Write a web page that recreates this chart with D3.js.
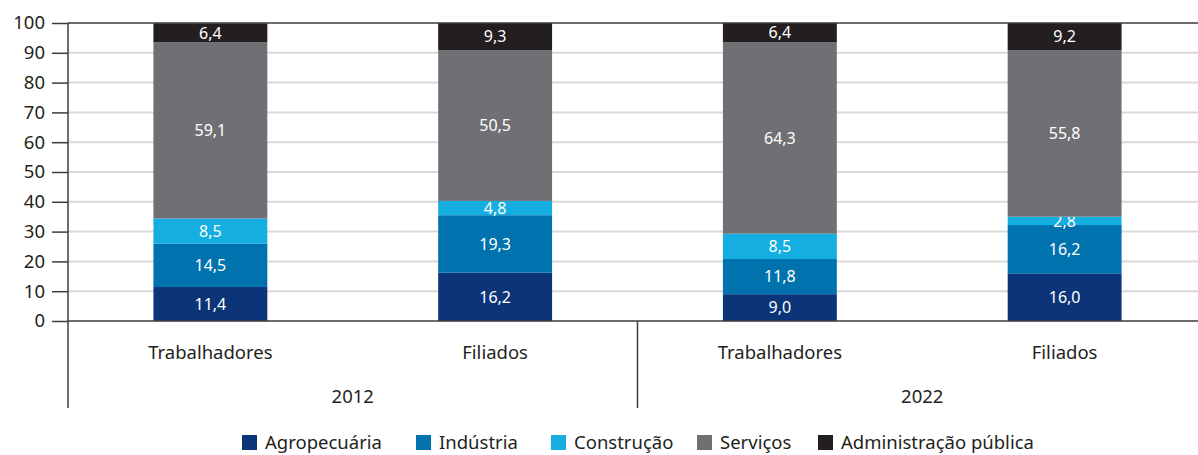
<!DOCTYPE html>
<html>
<head>
<meta charset="utf-8">
<script src="https://cdn.jsdelivr.net/npm/d3@7"></script>
<style>
  body { margin: 0; background: #fff; }
  svg { display: block; font-family: "Noto Sans", "Open Sans", sans-serif; }
</style>
</head>
<body>
<svg id="viz" width="1198" height="455"></svg>
<script>
// categories and values
const years = ["2012", "2022"];
const groups = ["Trabalhadores", "Filiados"];
const sectors = ["Agropecuária", "Indústria", "Construção", "Serviços", "Administração pública"];
const sectorColors = ["#0b3578", "#0072ae", "#14aee0", "#707074", "#231f20"];

const agropecuaria = [11.4, 16.2, 9.0, 16.0];
const industria = [14.5, 19.3, 11.8, 16.2];
const construcao = [8.5, 4.8, 8.5, 2.8];
const servicos = [59.1, 50.5, 64.3, 55.8];
const adminPublica = [6.4, 9.3, 6.4, 9.2];

const yTicks = [0, 10, 20, 30, 40, 50, 60, 70, 80, 90, 100];

const margin = { top: 23, bottom: 321, left: 68, right: 1207 };
const LABEL_SIZE = 18.5;

const svg = d3.select("#viz");

// one row per bar: year + group
const bars = [];
years.forEach(yr => groups.forEach(g => bars.push({ key: `${yr}-${g}`, year: yr, group: g })));
const series = [agropecuaria, industria, construcao, servicos, adminPublica];
bars.forEach((b, i) => sectors.forEach((s, j) => { b[s] = series[j][i]; }));

const x = d3.scaleBand()
    .domain(bars.map(d => d.key))
    .range([margin.left, margin.right])
    .paddingInner(0.6)
    .paddingOuter(0.3);

const y = d3.scaleLinear()
    .domain([0, 100])
    .range([margin.bottom, margin.top]);

const color = d3.scaleOrdinal().domain(sectors).range(sectorColors);

// gridlines
svg.append("g")
    .selectAll("line")
    .data(yTicks.filter(t => t > 0 && t < 100))
    .join("line")
    .attr("x1", margin.left)
    .attr("x2", 1198)
    .attr("y1", d => y(d))
    .attr("y2", d => y(d))
    .attr("stroke", "#d9d9d9")
    .attr("stroke-width", 2);

// stacked bars
const stacked = d3.stack().keys(sectors)(bars);
const layer = svg.append("g")
    .selectAll("g")
    .data(stacked)
    .join("g")
    .attr("fill", d => color(d.key));

layer.selectAll("rect")
    .data(d => d)
    .join("rect")
    .attr("x", d => x(d.data.key))
    .attr("width", x.bandwidth())
    .attr("y", d => y(Math.min(d[1], 100)))
    .attr("height", d => y(d[0]) - y(Math.min(d[1], 100)));

layer.selectAll("text")
    .data(d => d)
    .join("text")
    .attr("x", d => x(d.data.key) + x.bandwidth() / 2)
    .attr("y", d => (y(d[0]) + y(Math.min(d[1], 100))) / 2)
    .attr("dy", "0.36em")
    .attr("text-anchor", "middle")
    .attr("font-size", 16)
    .attr("fill", "#fff")
    .text(d => d3.format(".1f")(d[1] - d[0]).replace(".", ","));

// top line and baseline
[100, 0].forEach(v => {
    svg.append("line")
        .attr("x1", margin.left).attr("x2", 1198)
        .attr("y1", y(v)).attr("y2", y(v))
        .attr("stroke", "#3c3c3c").attr("stroke-width", 1.5);
});

// y axis
const yAxis = svg.append("g")
    .attr("transform", `translate(${margin.left},0)`)
    .call(d3.axisLeft(y).tickValues(yTicks).tickSize(16).tickPadding(7));
yAxis.select(".domain").remove();
yAxis.selectAll(".tick line").attr("stroke", "#3c3c3c").attr("stroke-width", 1.5);
yAxis.selectAll(".tick text")
    .attr("font-size", LABEL_SIZE)
    .attr("font-family", "\"Noto Sans\", sans-serif")
    .attr("fill", "#231f20");

// vertical frame lines: the y axis and the divider between years
const lastOfGroup1 = x(bars[1].key) + x.bandwidth();
const firstOfGroup2 = x(bars[2].key);
const divX = (firstOfGroup2 + lastOfGroup1) / 2;
svg.append("line")
    .attr("x1", margin.left).attr("x2", margin.left)
    .attr("y1", margin.top).attr("y2", 408)
    .attr("stroke", "#3c3c3c").attr("stroke-width", 1.5);
svg.append("line")
    .attr("x1", divX).attr("x2", divX)
    .attr("y1", margin.bottom).attr("y2", 408)
    .attr("stroke", "#3c3c3c").attr("stroke-width", 1.5);

// group labels
svg.append("g")
    .selectAll("text")
    .data(bars)
    .join("text")
    .attr("x", d => x(d.key) + x.bandwidth() / 2)
    .attr("y", 359)
    .attr("text-anchor", "middle")
    .attr("font-size", LABEL_SIZE)
    .attr("fill", "#231f20")
    .text(d => d.group);

// year labels
svg.append("g")
    .selectAll("text")
    .data(years)
    .join("text")
    .attr("x", yr => {
        const ks = bars.filter(b => b.year === yr);
        return (x(ks[0].key) + x(ks[1].key) + x.bandwidth()) / 2;
    })
    .attr("y", 403)
    .attr("text-anchor", "middle")
    .attr("font-size", LABEL_SIZE)
    .attr("fill", "#231f20")
    .text(yr => yr);

// legend
const legendX = [242, 416, 551, 697, 818];
const legend = svg.append("g")
    .selectAll("g")
    .data(sectors)
    .join("g")
    .attr("transform", (d, i) => `translate(${legendX[i]},435)`);
legend.append("rect")
    .attr("width", 15).attr("height", 15)
    .attr("fill", d => color(d));
legend.append("text")
    .attr("x", 23)
    .attr("y", 14)
    .attr("font-size", LABEL_SIZE)
    .attr("fill", "#231f20")
    .text(d => d);
</script>
</body>
</html>
